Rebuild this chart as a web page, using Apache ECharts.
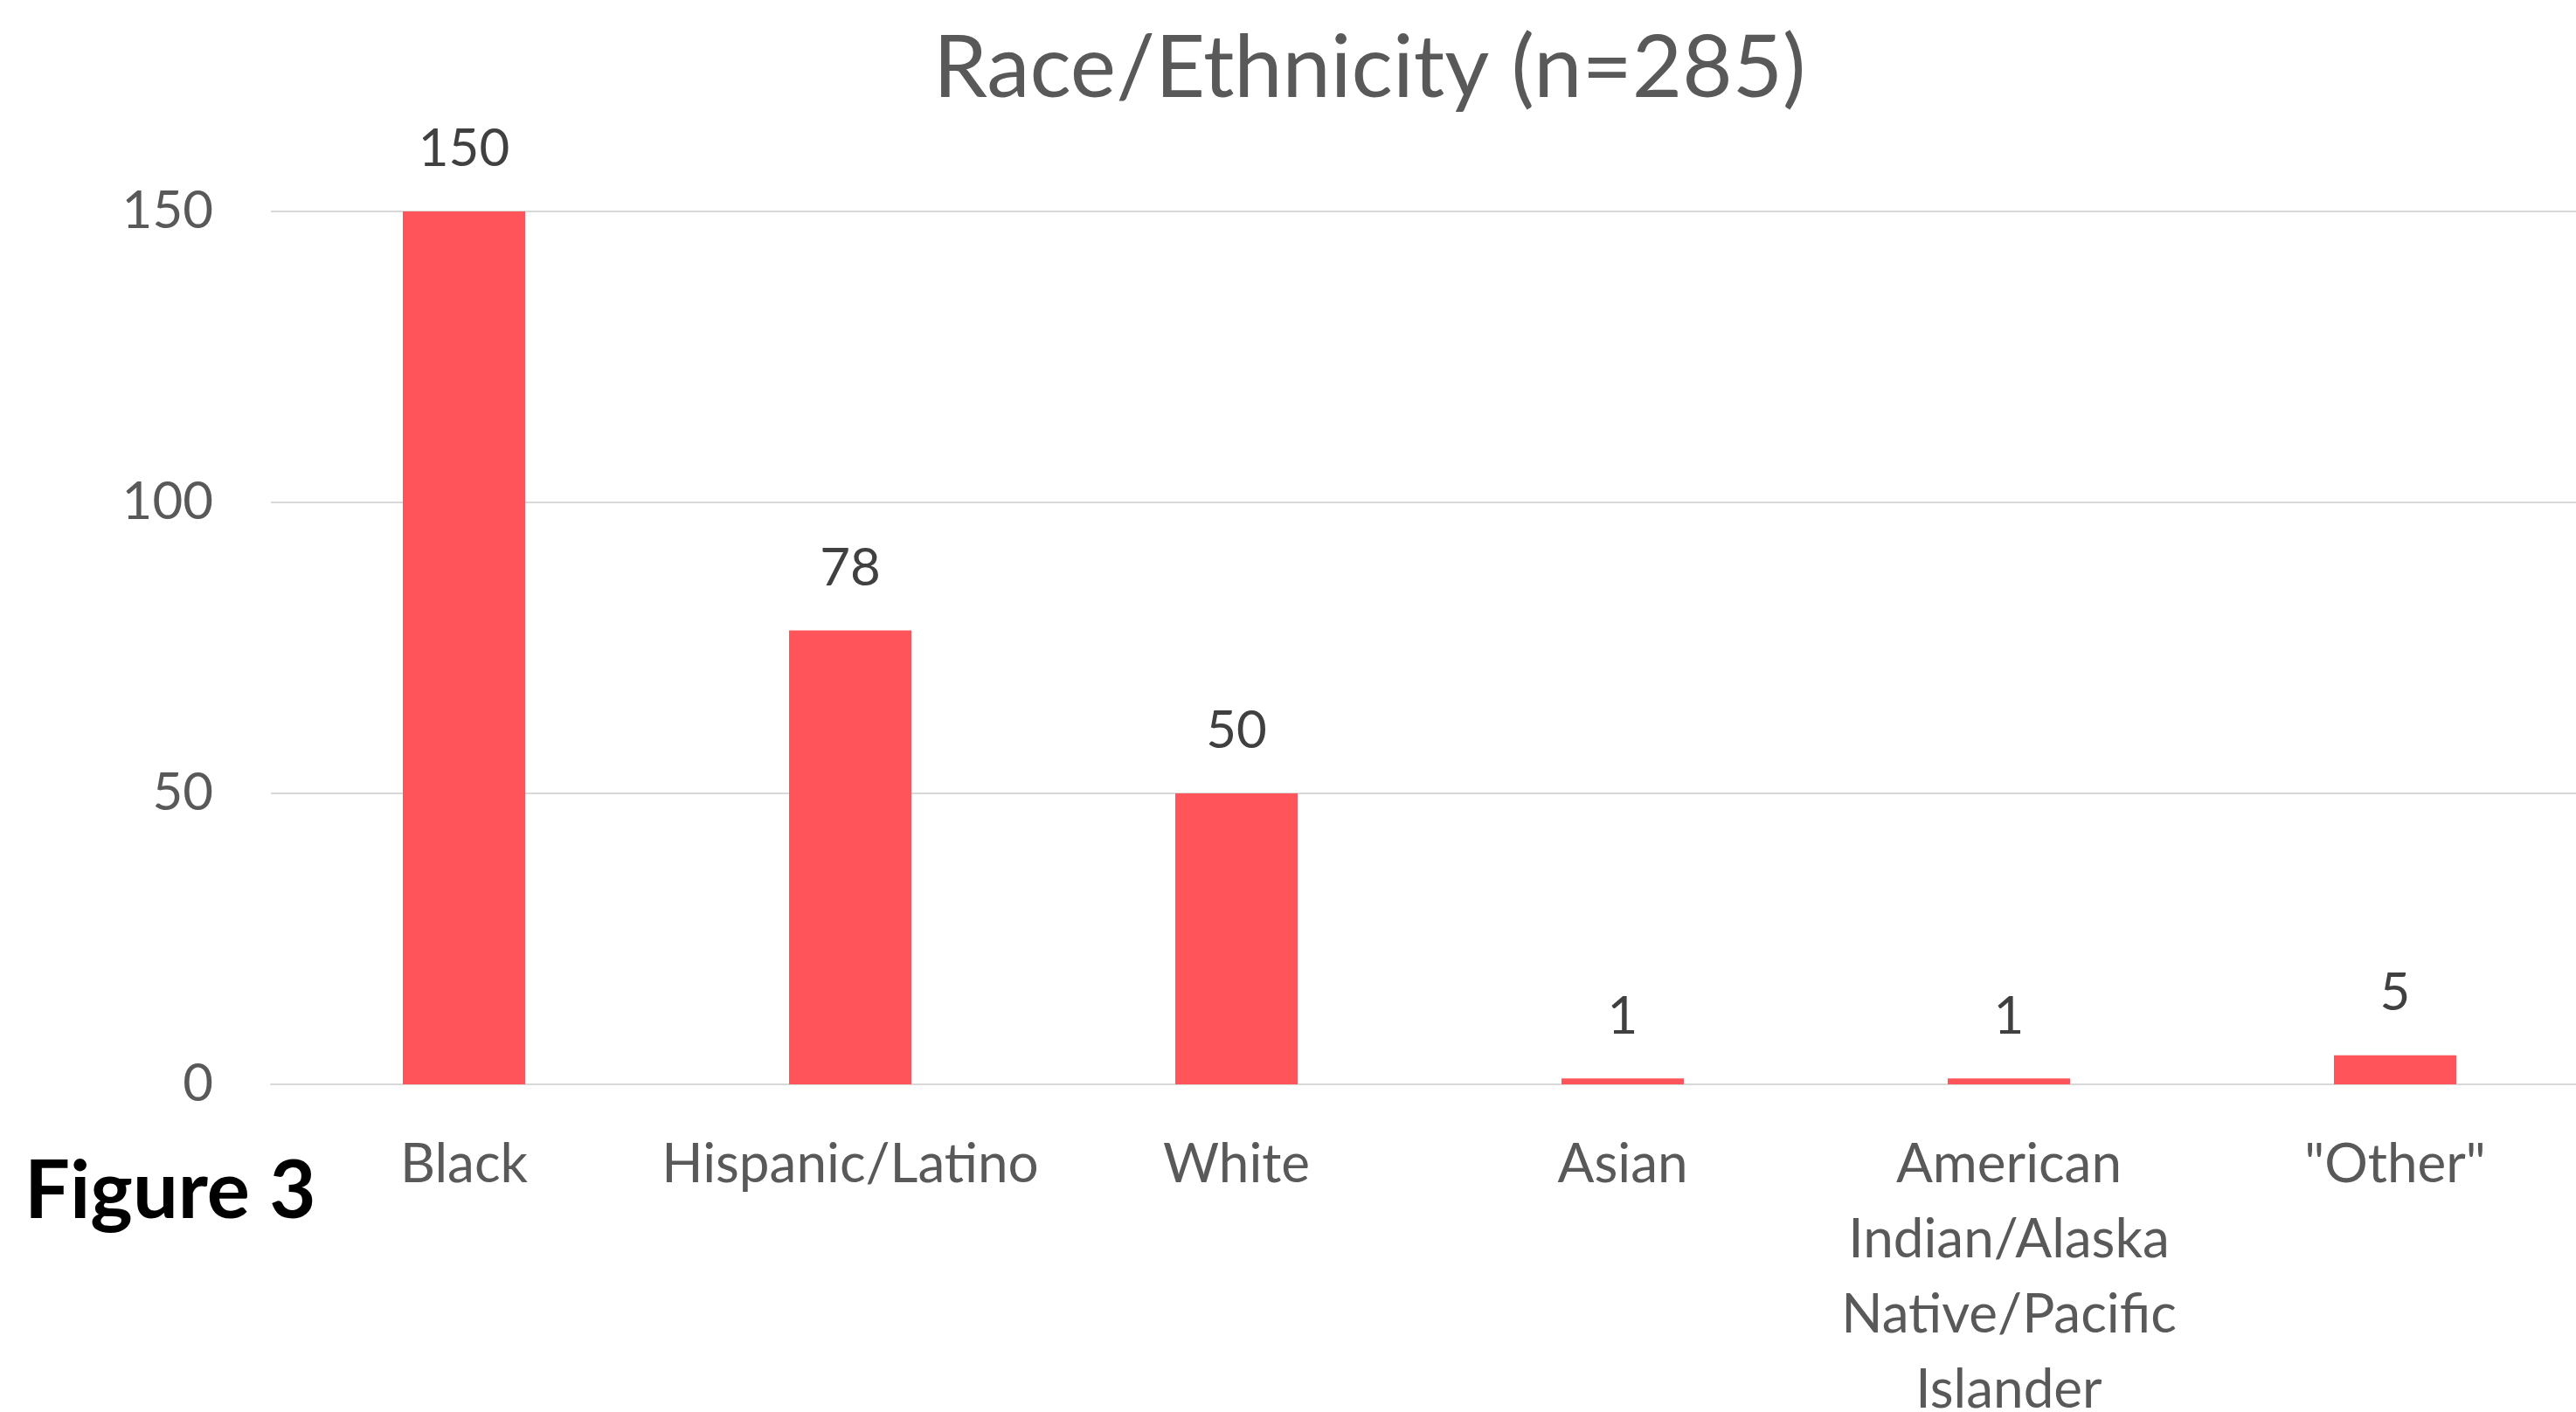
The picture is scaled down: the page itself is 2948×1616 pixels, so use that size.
<!DOCTYPE html>
<html>
<head>
<meta charset="utf-8">
<title>Race/Ethnicity (n=285)</title>
<script src="https://cdn.jsdelivr.net/npm/echarts@6/dist/echarts.min.js"></script>
<style>
  html, body { margin: 0; padding: 0; background: #ffffff; }
  #chart { width: 2948px; height: 1616px; }
</style>
</head>
<body>
<div id="chart"></div>
<script>
// Respondent counts by race/ethnicity
const categories = [
  'Black',
  'Hispanic/Latino',
  'White',
  'Asian',
  'American\nIndian/Alaska\nNative/Pacific\nIslander',
  '"Other"'
];
const counts = [150, 78, 50, 1, 1, 5];
const yTicks = { min: 0, max: 150, interval: 50 };

const TEXT = '#595959';
const FONT = 'Lato, "Noto Sans", sans-serif';

const chart = echarts.init(document.getElementById('chart'), null, { renderer: 'canvas' });

chart.setOption({
  backgroundColor: '#ffffff',
  animation: false,
  title: {
    text: 'Race/Ethnicity (n=285)',
    left: 1068,
    top: 30,
    padding: 0,
    textStyle: { fontFamily: FONT, fontSize: 99, fontWeight: 'normal', color: TEXT }
  },
  grid: {
    left: 310, top: 242, width: 2652, height: 999,
    containLabel: false,
    outerBoundsMode: 'none'
  },
  xAxis: {
    type: 'category',
    data: categories,
    axisLine: { show: true, lineStyle: { color: '#d9d9d9', width: 2 } },
    axisTick: { show: false },
    axisLabel: {
      interval: 0,
      margin: 49,
      color: TEXT,
      fontFamily: FONT,
      fontSize: 62,
      lineHeight: 86
    }
  },
  yAxis: {
    type: 'value',
    min: yTicks.min,
    max: yTicks.max,
    interval: yTicks.interval,
    axisLine: { show: false },
    axisTick: { show: false },
    splitLine: { lineStyle: { color: '#d9d9d9', width: 2 } },
    axisLabel: { margin: 66, color: TEXT, fontFamily: FONT, fontSize: 60, padding: [6, 0, 0, 0] }
  },
  series: [{
    type: 'bar',
    data: counts,
    barWidth: 140,
    itemStyle: { color: '#FF5459' },
    label: {
      show: true,
      position: 'top',
      distance: 41,
      color: '#404040',
      fontFamily: FONT,
      fontSize: 60
    }
  }],
  graphic: [{
    type: 'text',
    left: 28,
    top: 1318,
    style: {
      text: 'Figure 3',
      fill: '#000000',
      font: 'bold 92px Lato, "Noto Sans", sans-serif'
    }
  }]
});
</script>
</body>
</html>
